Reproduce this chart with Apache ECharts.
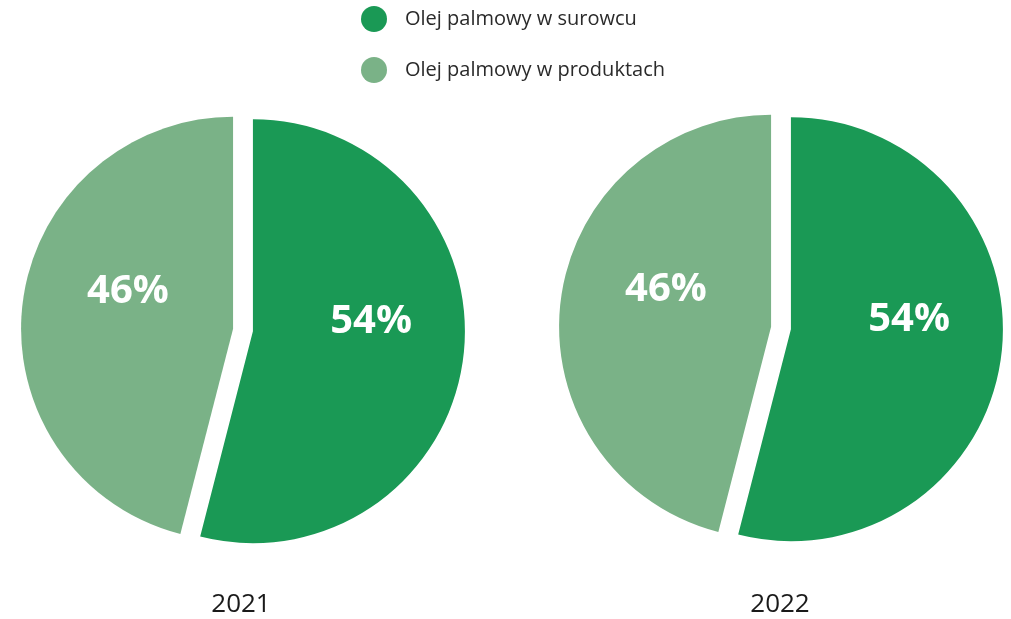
<!DOCTYPE html>
<html>
<head>
<meta charset="utf-8">
<script src="https://cdn.jsdelivr.net/npm/echarts@6/dist/echarts.min.js"></script>
<style>
html,body{margin:0;padding:0;background:#fff;}
#main{width:1011px;height:619px;}
</style>
</head>
<body>
<div id="main"></div>
<script>
var categories = ['Olej palmowy w surowcu', 'Olej palmowy w produktach'];
var years = ['2021', '2022'];
var values2021 = [54, 46];
var values2022 = [54, 46];
var colors = ['#1a9955', '#7ab287'];

var chart = echarts.init(document.getElementById('main'));
var font = '"Open Sans", "Noto Sans", sans-serif';
var labelShift = [[10, -23], [3, -23]];

function makeSeries(name, vals, center) {
  return {
    type: 'pie',
    name: name,
    center: center,
    radius: [0, 212],
    startAngle: 90,
    clockwise: true,
    selectedMode: 'multiple',
    selectedOffset: 10,
    avoidLabelOverlap: false,
    emphasis: { disabled: true },
    labelLine: { show: false },
    label: {
      show: true,
      position: 'inside',
      formatter: '{c}%',
      color: '#fff',
      fontFamily: font,
      fontWeight: 'bold',
      fontSize: 40
    },
    labelLayout: function (p) {
      var s = labelShift[p.dataIndex];
      return { dx: s[0], dy: s[1] };
    },
    data: categories.map(function (c, i) {
      return {
        name: c,
        value: vals[i],
        selected: true,
        itemStyle: { color: colors[i] }
      };
    })
  };
}

var yearStyle = { fontFamily: font, fontSize: 26, fontWeight: 'normal', fill: '#1a1a1a' };

chart.setOption({
  animation: false,
  color: colors,
  graphic: [
    { type: 'text', x: 241, y: 605, style: Object.assign({ text: years[0], align: 'center', verticalAlign: 'middle' }, yearStyle) },
    { type: 'text', x: 780, y: 605, style: Object.assign({ text: years[1], align: 'center', verticalAlign: 'middle' }, yearStyle) }
  ],
  legend: {
    orient: 'vertical',
    left: 356,
    top: 1,
    icon: 'circle',
    itemWidth: 26,
    itemHeight: 26,
    itemGap: 25,
    selectedMode: false,
    data: categories,
    textStyle: { fontFamily: font, fontSize: 20, color: '#2a2a2a', padding: [0, 0, 0, 13] }
  },
  series: [
    makeSeries(years[0], values2021, [243, 330]),
    makeSeries(years[1], values2022, [781, 328])
  ]
});
</script>
</body>
</html>
